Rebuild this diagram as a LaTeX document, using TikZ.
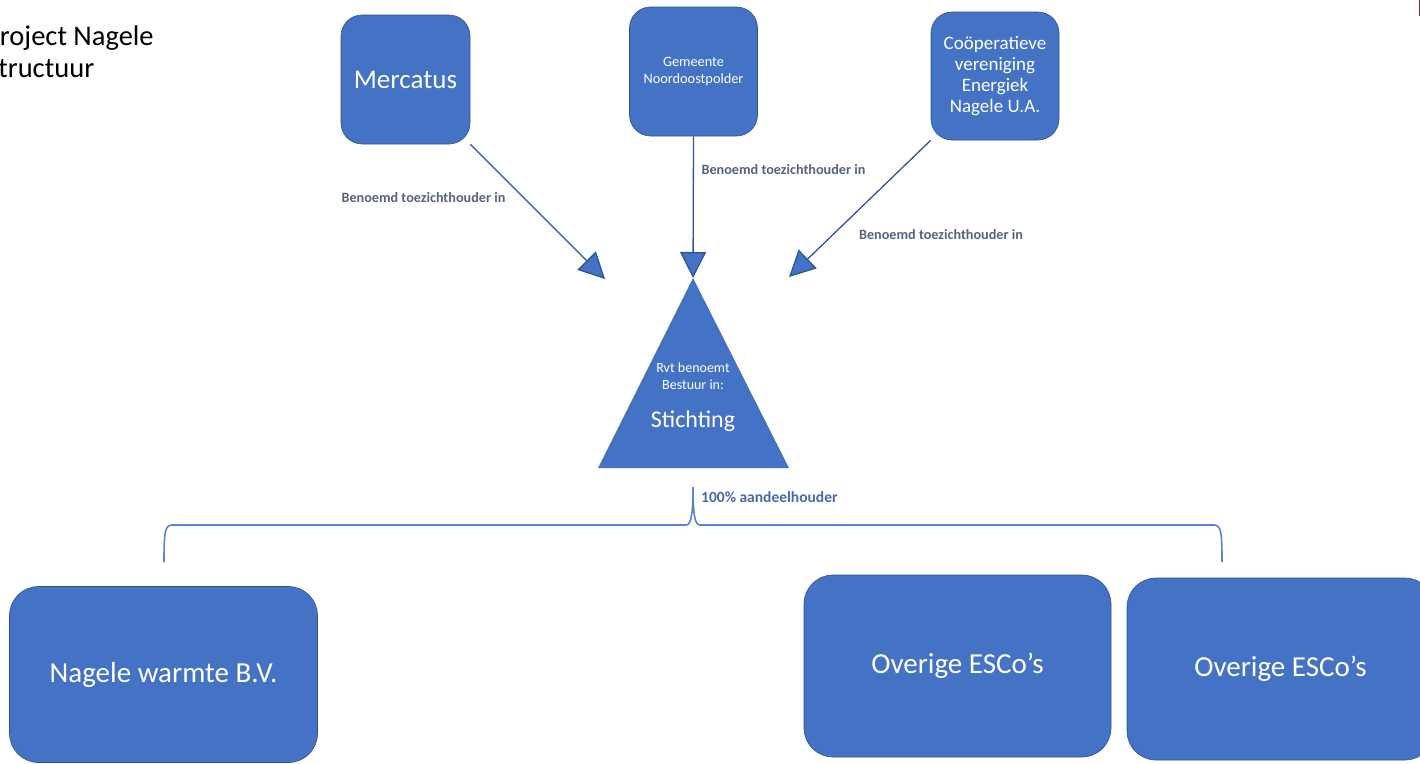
\documentclass[tikz,border=0pt]{standalone}
\usepackage{fontspec}
\setmainfont{Carlito}
\usetikzlibrary{arrows.meta,positioning}

\definecolor{boxblue}{HTML}{4472C4}
\definecolor{boxline}{HTML}{2F528F}
\definecolor{arrline}{HTML}{2F5597}
\definecolor{bracecol}{HTML}{5A84CC}
\definecolor{lblgrey}{HTML}{55637F}
\definecolor{pctblue}{HTML}{4A67AA}
\definecolor{sliver}{HTML}{5B2C6F}

\tikzset{
  box/.style={draw=boxline, line width=0.6pt, fill=boxblue, text=white, align=center, inner sep=0},
  bigtxt/.style={font=\fontsize{29}{34}\selectfont},
  lbl/.style={text=lblgrey, font=\fontsize{14.2}{17}\selectfont\bfseries, inner sep=0},
  arr/.style={draw=arrline, line width=1.3pt, -{Triangle[length=26pt, width=26pt, fill=boxblue]}},
  bracepath/.style={draw=bracecol, line width=1.6pt},
}

\begin{document}
\begin{tikzpicture}[x=1pt, y=-1pt]
  \useasboundingbox (0,0) rectangle (1420,763);
  \clip (0,0) rectangle (1420,763);

  % Title (cut off at the left edge)
  \node[anchor=base west, inner sep=0, font=\fontsize{28.5}{33}\selectfont] (title) at (-15,45) {Project Nagele};
  \node[anchor=base west, inner sep=0, font=\fontsize{28.5}{33}\selectfont] (subtitle) at (-15,77) {Structuur};

  % Top row
  \node[box, minimum width=129pt, minimum height=129pt, rounded corners=21pt, font=\fontsize{27}{32}\selectfont] (merc) at (405.5,79.5) {Mercatus};
  \node[box, minimum width=128pt, minimum height=129pt, rounded corners=21pt, font=\fontsize{14.3}{17.5}\selectfont] (gem) at (693.5,71.5) {Gemeente\\Noordoostpolder};
  \node[box, minimum width=128pt, minimum height=128pt, rounded corners=21pt, font=\fontsize{19}{21}\selectfont] (coop) at (995,76) {Coöperatieve\\vereniging\\Energiek\\Nagele U.A.};

  % Stichting
  \coordinate (apex) at (693,278);
  \coordinate (base left) at (598,468);
  \coordinate (base right) at (789,468);
  \fill[boxblue] (apex) -- (base left) -- (base right) -- cycle;
  \node[text=white, align=center, inner sep=0, font=\fontsize{14}{17}\selectfont] (rvt) at (693,376.5) {Rvt benoemt\\Bestuur in:};
  \node[text=white, inner sep=0, font=\fontsize{24}{28}\selectfont] (stichting) at (693,421) {Stichting};

  % Arrows into the Stichting
  \coordinate (tip merc) at (605,279);
  \coordinate (tip coop) at (789,277);
  \draw[arr] (merc.south east) -- (tip merc);
  \draw[arr] (gem.south) -- (apex);
  \draw[arr] (coop.south west) -- (tip coop);

  \node[lbl] (lbl merc) at (423.5,198) {Benoemd toezichthouder in};
  \node[lbl] (lbl gem) at (783.5,170) {Benoemd toezichthouder in};
  \node[lbl] (lbl coop) at (941,235) {Benoemd toezichthouder in};

  % Brace
  \coordinate (brace tip) at (693,487);
  \draw[bracepath] (164,562) .. controls (164,532) and (165,525) .. (172,525) -- (686,525)
    .. controls (691,525) and (693,515) .. (brace tip)
    .. controls (693,515) and (695,525) .. (700,525) -- (1214,525)
    .. controls (1221,525) and (1222,532) .. (1222,562);
  \node[anchor=west, inner sep=0, text=pctblue, font=\fontsize{15.5}{18}\selectfont\bfseries] (pct) at (701,497) {100\% aandeelhouder};

  % Bottom row
  \node[box, bigtxt, minimum width=308pt, minimum height=176pt, rounded corners=29pt] (nagele) at (163.5,674.5) {Nagele warmte B.V.};
  \foreach \name/\cx/\cy in {esco1/957.5/666, esco2/1280.5/669} {
    \node[box, bigtxt, minimum width=307pt, minimum height=182pt, rounded corners=29pt] (\name) at (\cx,\cy) {Overige ESCo’s};
  }

  % edge of a shape on the right
  \draw[sliver, line width=2pt] (1419.5,0) -- (1419.5,16);
\end{tikzpicture}
\end{document}
